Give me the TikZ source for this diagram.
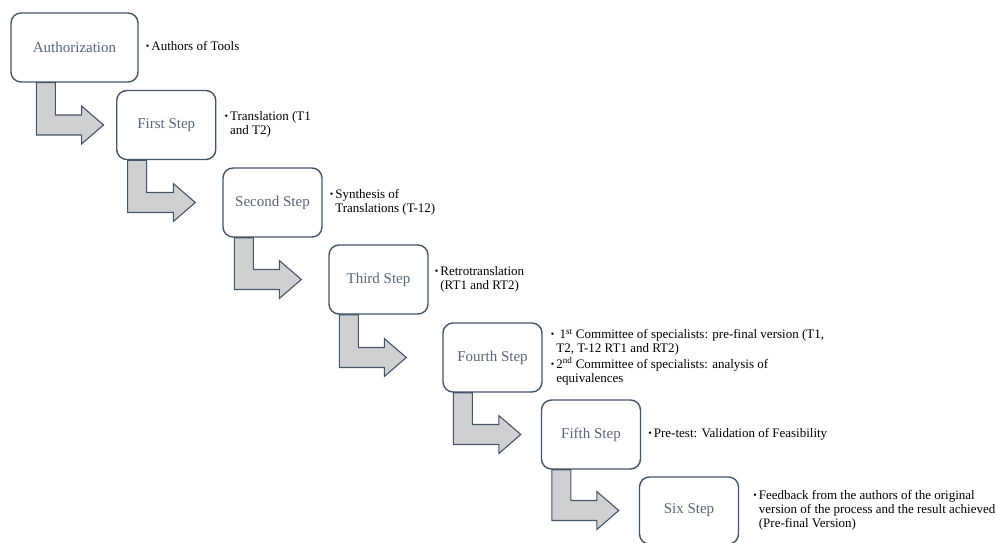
\documentclass[tikz,border=0pt]{standalone}
\usepackage{fontspec}
\setmainfont{Liberation Serif}
\usetikzlibrary{positioning, calc}
\definecolor{slate}{HTML}{44546A}
\definecolor{slatetext}{HTML}{56657A}
\definecolor{arrowgray}{HTML}{D0D0D2}
\tikzstyle{stepbox} = [draw=slate, line width=1.4pt, rounded corners=10pt, minimum width=99pt, minimum height=69pt, text=slatetext, font=\fontsize{15}{18}\selectfont]
\tikzstyle{note} = [anchor=west, inner sep=0pt, align=left, font=\fontsize{13}{14}\selectfont]
\tikzstyle{joinarrow} = [draw=slate, fill=arrowgray, line width=1.1pt, line join=miter]

\newcommand{\bul}{{\fontsize{10}{10}\selectfont\raisebox{1.2pt}{\textbullet}}}
% bent arrow: from, to, shaft offset, gap before the next box
\newcommand{\bentarrow}[4]{%
  \draw[joinarrow] let \p1=(#1.south west), \p2=(#2.west) in
    (\x1+#3, \y1) -- (\x1+#3+19pt, \y1) -- (\x1+#3+19pt, \y2+10pt)
    -- (\x2-#4-22pt, \y2+10pt) -- (\x2-#4-22pt, \y2+19pt) -- (\x2-#4, \y2)
    -- (\x2-#4-22pt, \y2-19pt) -- (\x2-#4-22pt, \y2-10pt) -- (\x1+#3, \y2-10pt) -- cycle;
}

\begin{document}
\begin{tikzpicture}[x=1pt, y=-1pt]
    \useasboundingbox (0,0) rectangle (996,543);

    % steps
    \node[stepbox, minimum width=127pt] (auth) at (74.5,47.5) {Authorization};
    \node[stepbox] (first) at (166.25,125) {First Step};
    \node[stepbox] (second) at (272.5,202.5) {Second Step};
    \node[stepbox] (third) at (378.5,279.5) {Third Step};
    \node[stepbox] (fourth) at (492.5,357.5) {Fourth Step};
    \node[stepbox] (fifth) at (591,434.5) {Fifth Step};
    \node[stepbox, minimum height=67pt] (six) at (689,510.5) {Six Step};

    % notes
    \node[note, right=7pt of auth] (authnote) {\begin{tabular}{@{}l@{\hspace{2pt}}l@{}}\bul & Authors of Tools\end{tabular}};
    \node[note, right=8pt of first] (firstnote) {\begin{tabular}{@{}l@{\hspace{2pt}}l@{}}\bul & Translation (T1\\ & and T2)\end{tabular}};
    \node[note, right=7pt of second] (secondnote) {\begin{tabular}{@{}l@{\hspace{2pt}}l@{}}\bul & Synthesis of\\ & Translations (T-12)\end{tabular}};
    \node[note, right=6pt of third] (thirdnote) {\begin{tabular}{@{}l@{\hspace{2pt}}l@{}}\bul & Retrotranslation\\ & (RT1 and RT2)\end{tabular}};
    \node[note, right=8pt of fourth] (fourthnote) {\begin{tabular}{@{}l@{\hspace{2pt}}l@{}}\bul & \ 1\textsuperscript{st} Committee of specialists: pre-final version (T1,\\ & T2, T-12 RT1 and RT2)\\[1pt]
        \bul & 2\textsuperscript{nd} Committee of specialists: analysis of\\ & equivalences\end{tabular}};
    \node[note, right=7pt of fifth] (fifthnote) {\begin{tabular}{@{}l@{\hspace{2pt}}l@{}}\bul & Pre-test: Validation of Feasibility\end{tabular}};
    \node[note, right=14pt of six] (sixnote) {\begin{tabular}{@{}l@{\hspace{2pt}}l@{}}\bul & Feedback from the authors of the original\\ & version of the process and the result achieved\\ & (Pre-final Version)\end{tabular}};

    % arrows
    \bentarrow{auth}{first}{26pt}{12.5pt}
    \bentarrow{first}{second}{11.5pt}{27pt}
    \bentarrow{second}{third}{12pt}{27pt}
    \bentarrow{third}{fourth}{11pt}{36pt}
    \bentarrow{fourth}{fifth}{11pt}{20pt}
    \bentarrow{fifth}{six}{11pt}{20pt}
\end{tikzpicture}
\end{document}
